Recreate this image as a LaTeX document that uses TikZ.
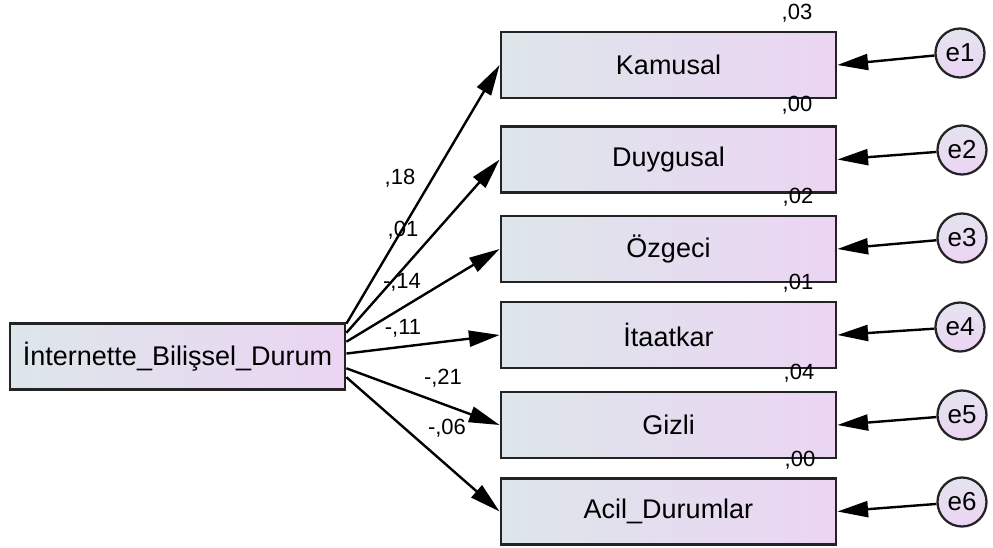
\documentclass[tikz,border=0pt]{standalone}
\usepackage{fontspec}
\setmainfont{Liberation Sans}
\usetikzlibrary{arrows.meta}

\definecolor{boxleft}{RGB}{221,230,234}
\definecolor{boxright}{RGB}{235,213,243}
\definecolor{circtop}{RGB}{228,228,240}
\definecolor{circbot}{RGB}{236,212,243}
\definecolor{edgegray}{RGB}{35,35,35}

\begin{document}
\begin{tikzpicture}[x=0.75pt,y=0.75pt,yscale=-1,xscale=1,
  obsbox/.style={draw=edgegray, line width=2.1pt, left color=boxleft, right color=boxright,
    minimum width=251.25pt, minimum height=49.5pt, inner sep=0pt,
    font=\fontsize{20.25}{24}\selectfont},
  errcirc/.style={circle, draw=edgegray, line width=1.7pt, top color=circtop, bottom color=circbot,
    minimum size=36.75pt, inner sep=0pt, font=\fontsize{19.5}{22}\selectfont},
  coef/.style={inner sep=0.75pt, font=\fontsize{16.5}{19}\selectfont},
  regarrow/.style={draw=black, line width=1.8pt, -{Triangle[length=23pt,width=12pt]}}
]
\useasboundingbox (0,0) rectangle (993,548);

% Boxes
\node [obsbox] (int) at (177.5,356.5) {İnternette\_Bilişsel\_Durum};
\node [obsbox] (kam) at (668.5,65) {Kamusal};
\node [obsbox] (duy) at (668.5,159.5) {Duygusal};
\node [obsbox] (ozg) at (668.5,249) {Özgeci};
\node [obsbox] (ita) at (668.5,335) {İtaatkar};
\node [obsbox] (giz) at (668.5,425) {Gizli};
\node [obsbox] (aci) at (668.5,511.5) {Acil\_Durumlar};

% Error terms
\node [errcirc] (e1) at (960,53) {e1};
\node [errcirc] (e2) at (962,150) {e2};
\node [errcirc] (e3) at (962,238) {e3};
\node [errcirc] (e4) at (960,327) {e4};
\node [errcirc] (e5) at (962,415) {e5};
\node [errcirc] (e6) at (962,502) {e6};

%Straight Lines
\draw [regarrow] (int.11) -- (kam.west);
\draw [regarrow] (int.8) -- (duy.west);
\draw [regarrow] (int.5) -- (ozg.west);
\draw [regarrow] (int.1) -- (ita.west);
\draw [regarrow] (int.-4) -- (giz.west);
\draw [regarrow] (int.-7.5) -- (aci.west);

\draw [regarrow] (e1) -- (kam.east);
\draw [regarrow] (e2) -- (duy.east);
\draw [regarrow] (e3) -- (ozg.east);
\draw [regarrow] (e4) -- (ita.east);
\draw [regarrow] (e5) -- (giz.east);
\draw [regarrow] (e6) -- (aci.east);

% Text Node
\node [coef] (w1) at (400,178) {,18};
\node [coef] (w2) at (403,230) {,01};
\node [coef] (w3) at (402,282) {-,14};
\node [coef] (w4) at (403,328) {-,11};
\node [coef] (w5) at (443,378) {-,21};
\node [coef] (w6) at (447,428) {-,06};

% Text Node
\node [coef] (r1) at (797,13) {,03};
\node [coef] (r2) at (797,105) {,00};
\node [coef] (r3) at (798,197) {,02};
\node [coef] (r4) at (798,283) {,01};
\node [coef] (r5) at (799,373) {,04};
\node [coef] (r6) at (800,460) {,00};

\end{tikzpicture}
\end{document}
